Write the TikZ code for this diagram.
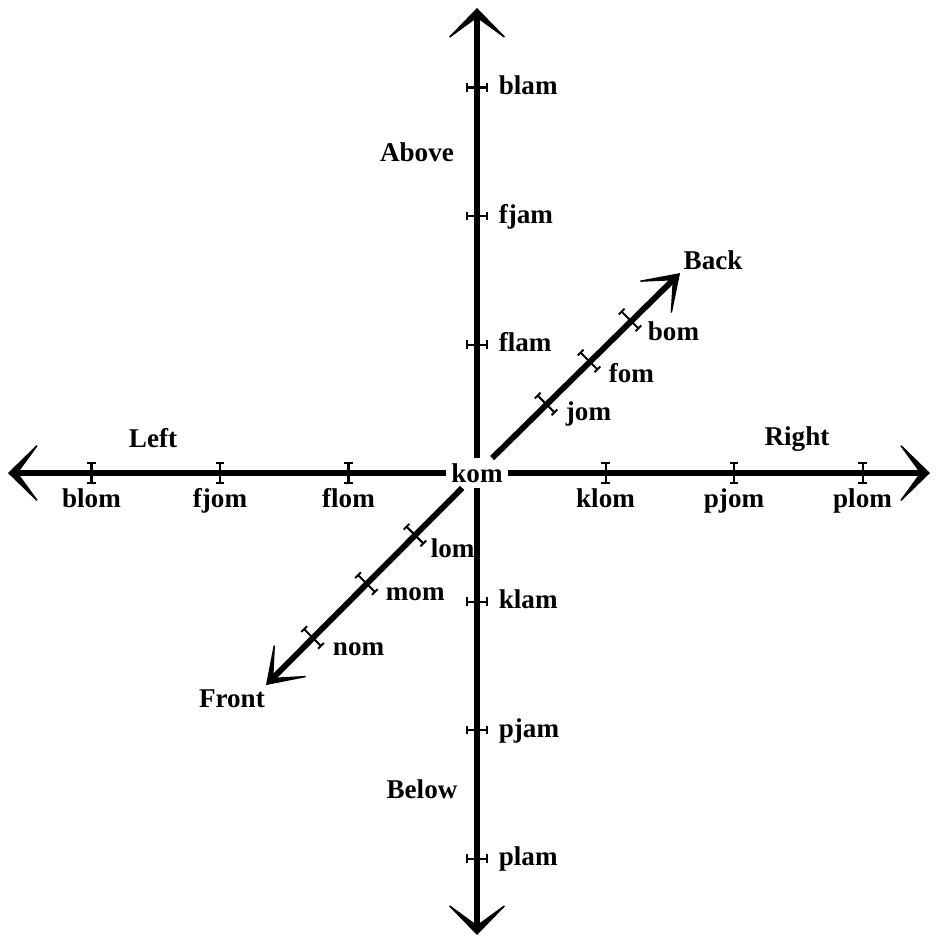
\documentclass[tikz,border=0pt]{standalone}
\usepackage{fontspec}
\setmainfont{Liberation Serif}
\usetikzlibrary{arrows.meta}
\tikzset{
  axis/.style={line width=1.45pt, -{Stealth[length=7.6pt, width=14.8pt, inset=5.4pt, line width=0.3pt]}},
  diag/.style={line width=1.3pt, -{Stealth[length=9.2pt, width=12.4pt, inset=6.9pt, line width=0.3pt]}},
  tick/.style={line width=0.45pt, {Bar[width=1.8pt]}-{Bar[width=1.8pt]}},
  lbl/.style={font=\fontsize{6}{7}\selectfont\bfseries, inner sep=0pt},
}
\begin{document}
\begin{tikzpicture}
  \useasboundingbox (-3.712,-3.626) rectangle (3.564,3.681);
  \node[lbl,minimum width=13.5pt,minimum height=6.2pt] (kom) at (0,0) {kom};
  \coordinate (topend) at (0,3.619);
  \coordinate (botend) at (0,-3.595);
  \coordinate (leftend) at (-3.65,0);
  \coordinate (rightend) at (3.525,0);
  \coordinate (backend) at (1.58,1.556);
  \coordinate (frontend) at (-1.642,-1.65);
  \draw[axis] (kom) -- (topend);
  \draw[axis] (kom) -- (botend);
  \draw[axis] (kom) -- (leftend);
  \draw[axis] (kom) -- (rightend);
  \draw[diag] (kom) -- (backend);
  \draw[diag] (kom) -- (frontend);
  % marks on left/right
  \foreach \x/\t in {-3/blom,-2/fjom,-1/flom,1/klom,2/pjom,3/plom}{
    \draw[tick] (\x,-0.085) -- (\x,0.085);
    \node[lbl,anchor=base] (\t) at (\x,-0.272) {\t};
  }
  % marks on above/below
  \foreach \y/\t in {3/blam,2/fjam,1/flam,-1/klam,-2/pjam,-3/plam}{
    \draw[tick] (-0.085,\y) -- (0.085,\y);
    \node[lbl,anchor=base west] (\t) at (0.163,\y-0.055) {\t};
  }
  % marks on back/front
  \foreach \r/\t/\lx/\ly in {0.76/jom/0.685/0.405,1.233/fom/1.019/0.708,1.684/bom/1.323/1.035,
      -0.683/lom/-0.366/-0.661,-1.216/mom/-0.716/-0.988,-1.81/nom/-1.128/-1.416}{
    \draw[tick] (45:\r) ++(135:0.1) -- ++(-45:0.2);
    \node[lbl,anchor=base west] (\t) at (\lx,\ly) {\t};
  }
  \node[lbl,anchor=base] (above) at (-0.467,2.428) {Above};
  \node[lbl,anchor=base] (below) at (-0.428,-2.529) {Below};
  \node[lbl,anchor=base] (leftlbl) at (-2.521,0.202) {Left};
  \node[lbl,anchor=base] (rightlbl) at (2.49,0.218) {Right};
  \node[lbl,anchor=base] (back) at (1.837,1.58) {Back};
  \node[lbl,anchor=base] (front) at (-1.907,-1.821) {Front};
\end{tikzpicture}
\end{document}
